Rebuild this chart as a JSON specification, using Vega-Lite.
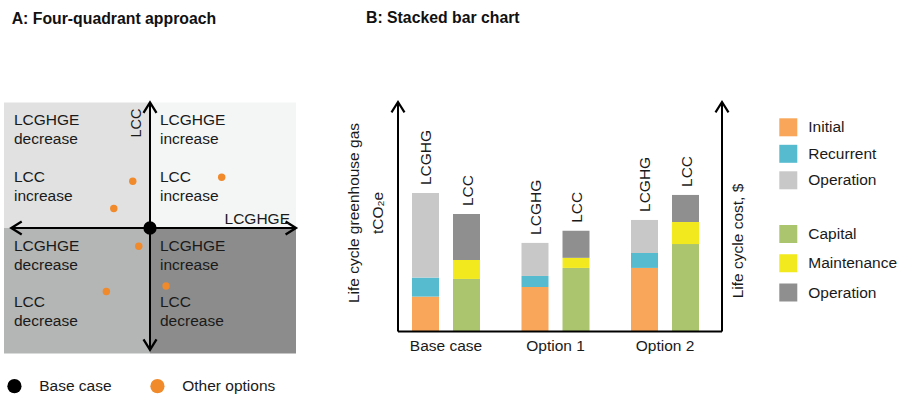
{
  "$schema": "https://vega.github.io/schema/vega-lite/v6.json",
  "width": 901,
  "height": 396,
  "padding": 0,
  "autosize": {"type": "none"},
  "background": "white",
  "config": {"view": {"stroke": null}, "font": "Liberation Sans"},
  "datasets": {
    "quadrants": [
      {"q": "TL", "x0": -1, "x1": 0, "y0": 0, "y1": 1, "ghgLabel": "LCGHGE\ndecrease", "lccLabel": "LCC\nincrease"},
      {"q": "TR", "x0": 0, "x1": 1, "y0": 0, "y1": 1, "ghgLabel": "LCGHGE\nincrease", "lccLabel": "LCC\nincrease"},
      {"q": "BL", "x0": -1, "x1": 0, "y0": -1, "y1": 0, "ghgLabel": "LCGHGE\ndecrease", "lccLabel": "LCC\ndecrease"},
      {"q": "BR", "x0": 0, "x1": 1, "y0": -1, "y1": 0, "ghgLabel": "LCGHGE\nincrease", "lccLabel": "LCC\ndecrease"}
    ],
    "arrowsA": [
      {"ghg": 1.0, "lcc": 0, "deg": 0},
      {"ghg": -0.95, "lcc": 0, "deg": 180},
      {"ghg": 0, "lcc": 1.0, "deg": 270},
      {"ghg": 0, "lcc": -0.97, "deg": 90}
    ],
    "base": [{"ghg": 0, "lcc": 0, "kind": "Base case"}],
    "others": [
      {"ghg": -0.118, "lcc": 0.373, "kind": "Other options"},
      {"ghg": -0.248, "lcc": 0.155, "kind": "Other options"},
      {"ghg": 0.491, "lcc": 0.405, "kind": "Other options"},
      {"ghg": -0.077, "lcc": -0.145, "kind": "Other options"},
      {"ghg": -0.299, "lcc": -0.506, "kind": "Other options"},
      {"ghg": 0.110, "lcc": -0.462, "kind": "Other options"}
    ],
    "bars": [
      {"group": "Base case", "measure": "LCGHG", "component": "Initial", "k": 1, "value": 15.2},
      {"group": "Base case", "measure": "LCGHG", "component": "Recurrent", "k": 2, "value": 8.3},
      {"group": "Base case", "measure": "LCGHG", "component": "Operation", "k": 3, "value": 36.8},
      {"group": "Base case", "measure": "LCC", "component": "Capital", "k": 1, "value": 22.9},
      {"group": "Base case", "measure": "LCC", "component": "Maintenance", "k": 2, "value": 8.3},
      {"group": "Base case", "measure": "LCC", "component": "Operation", "k": 3, "value": 20.0},
      {"group": "Option 1", "measure": "LCGHG", "component": "Initial", "k": 1, "value": 19.4},
      {"group": "Option 1", "measure": "LCGHG", "component": "Recurrent", "k": 2, "value": 4.8},
      {"group": "Option 1", "measure": "LCGHG", "component": "Operation", "k": 3, "value": 14.4},
      {"group": "Option 1", "measure": "LCC", "component": "Capital", "k": 1, "value": 27.7},
      {"group": "Option 1", "measure": "LCC", "component": "Maintenance", "k": 2, "value": 4.4},
      {"group": "Option 1", "measure": "LCC", "component": "Operation", "k": 3, "value": 11.8},
      {"group": "Option 2", "measure": "LCGHG", "component": "Initial", "k": 1, "value": 27.7},
      {"group": "Option 2", "measure": "LCGHG", "component": "Recurrent", "k": 2, "value": 6.5},
      {"group": "Option 2", "measure": "LCGHG", "component": "Operation", "k": 3, "value": 14.4},
      {"group": "Option 2", "measure": "LCC", "component": "Capital", "k": 1, "value": 38.1},
      {"group": "Option 2", "measure": "LCC", "component": "Maintenance", "k": 2, "value": 9.6},
      {"group": "Option 2", "measure": "LCC", "component": "Operation", "k": 3, "value": 11.8}
    ],
    "groups": [{"group": "Base case"}, {"group": "Option 1"}, {"group": "Option 2"}],
    "arrowsB": [{"fx": 0, "fy": 100}, {"fx": 1, "fy": 100}]
  },
  "layer": [
    {
      "layer": [
        {
          "data": {"name": "quadrants"},
          "mark": {"type": "rect"},
          "encoding": {
            "x": {"field": "x0", "type": "quantitative", "scale": {"domain": [-1, 1], "range": [4, 296]}, "axis": null},
            "x2": {"field": "x1"},
            "y": {"field": "y0", "type": "quantitative", "scale": {"domain": [-1, 1], "range": [353.5, 102.5]}, "axis": null},
            "y2": {"field": "y1"},
            "fill": {"field": "q", "type": "nominal", "scale": {"domain": ["TL", "TR", "BL", "BR"], "range": ["#e1e1e1", "#f4f5f5", "#b4b5b5", "#8c8c8c"]}, "legend": null}
          }
        },
        {
          "data": {"values": [{}]},
          "mark": {"type": "rule", "strokeWidth": 2, "color": "#000000"},
          "encoding": {
            "x": {"datum": -0.95, "type": "quantitative", "scale": {"domain": [-1, 1], "range": [4, 296]}, "axis": null},
            "x2": {"datum": 1.0},
            "y": {"datum": 0, "type": "quantitative", "scale": {"domain": [-1, 1], "range": [353.5, 102.5]}, "axis": null}
          }
        },
        {
          "data": {"values": [{}]},
          "mark": {"type": "rule", "strokeWidth": 2, "color": "#000000"},
          "encoding": {
            "x": {"datum": 0, "type": "quantitative", "scale": {"domain": [-1, 1], "range": [4, 296]}, "axis": null},
            "y": {"datum": -0.97, "type": "quantitative", "scale": {"domain": [-1, 1], "range": [353.5, 102.5]}, "axis": null},
            "y2": {"datum": 1.0}
          }
        },
        {
          "data": {"name": "arrowsA"},
          "mark": {"type": "point", "shape": "M -1.6 -1 L 0 0 L -1.6 1", "filled": false, "size": 169, "strokeWidth": 2.3, "color": "#000000", "opacity": 1},
          "encoding": {
            "x": {"field": "ghg", "type": "quantitative", "scale": {"domain": [-1, 1], "range": [4, 296]}, "axis": null},
            "y": {"field": "lcc", "type": "quantitative", "scale": {"domain": [-1, 1], "range": [353.5, 102.5]}, "axis": null},
            "angle": {"field": "deg", "type": "quantitative", "scale": null}
          }
        },
        {
          "data": {"name": "others"},
          "mark": {"type": "circle", "size": 55, "opacity": 1},
          "encoding": {
            "x": {"field": "ghg", "type": "quantitative", "scale": {"domain": [-1, 1], "range": [4, 296]}, "axis": null},
            "y": {"field": "lcc", "type": "quantitative", "scale": {"domain": [-1, 1], "range": [353.5, 102.5]}, "axis": null},
            "color": {
              "field": "kind", "type": "nominal",
              "scale": {"domain": ["Base case", "Other options"], "range": ["#000000", "#f08a2b"]},
              "legend": {
                "orient": "none", "legendX": 6.7, "legendY": 378, "direction": "horizontal", "title": null,
                "symbolType": "circle", "symbolSize": 201, "symbolOpacity": 1, "symbolStrokeWidth": 0,
                "labelOffset": 17, "columnPadding": 38, "labelFontSize": 15.5, "labelFont": "Liberation Sans",
                "labelColor": "#1a1a1a", "padding": 0
              }
            }
          }
        },
        {
          "data": {"name": "base"},
          "mark": {"type": "circle", "size": 177, "opacity": 1},
          "encoding": {
            "x": {"field": "ghg", "type": "quantitative", "scale": {"domain": [-1, 1], "range": [4, 296]}, "axis": null},
            "y": {"field": "lcc", "type": "quantitative", "scale": {"domain": [-1, 1], "range": [353.5, 102.5]}, "axis": null},
            "color": {"field": "kind", "type": "nominal", "scale": {"domain": ["Base case", "Other options"], "range": ["#000000", "#f08a2b"]}}
          }
        },
        {
          "data": {"name": "quadrants"},
          "mark": {"type": "text", "align": "left", "baseline": "alphabetic", "fontSize": 15.5, "lineHeight": 19, "lineBreak": "\n", "dx": 10, "dy": 22.5, "color": "#1a1a1a"},
          "encoding": {
            "x": {"field": "x0", "type": "quantitative", "scale": {"domain": [-1, 1], "range": [4, 296]}, "axis": null},
            "y": {"field": "y1", "type": "quantitative", "scale": {"domain": [-1, 1], "range": [353.5, 102.5]}, "axis": null},
            "text": {"field": "ghgLabel"}
          }
        },
        {
          "data": {"name": "quadrants"},
          "mark": {"type": "text", "align": "left", "baseline": "alphabetic", "fontSize": 15.5, "lineHeight": 19, "lineBreak": "\n", "dx": 10, "dy": 79, "color": "#1a1a1a"},
          "encoding": {
            "x": {"field": "x0", "type": "quantitative", "scale": {"domain": [-1, 1], "range": [4, 296]}, "axis": null},
            "y": {"field": "y1", "type": "quantitative", "scale": {"domain": [-1, 1], "range": [353.5, 102.5]}, "axis": null},
            "text": {"field": "lccLabel"}
          }
        },
        {
          "data": {"values": [{}]},
          "mark": {"type": "text", "text": "LCC", "angle": 270, "align": "right", "baseline": "alphabetic", "fontSize": 14.5, "dx": -6, "dy": -9.3, "color": "#1a1a1a"},
          "encoding": {
            "x": {"datum": 0, "type": "quantitative", "scale": {"domain": [-1, 1], "range": [4, 296]}, "axis": null},
            "y": {"datum": 1, "type": "quantitative", "scale": {"domain": [-1, 1], "range": [353.5, 102.5]}, "axis": null}
          }
        },
        {
          "data": {"values": [{}]},
          "mark": {"type": "text", "text": "LCGHGE", "align": "right", "baseline": "alphabetic", "fontSize": 15.5, "dx": -6, "dy": -4.5, "color": "#1a1a1a"},
          "encoding": {
            "x": {"datum": 1, "type": "quantitative", "scale": {"domain": [-1, 1], "range": [4, 296]}, "axis": null},
            "y": {"datum": 0, "type": "quantitative", "scale": {"domain": [-1, 1], "range": [353.5, 102.5]}, "axis": null}
          }
        },
        {
          "data": {"values": [{}]},
          "mark": {"type": "text", "text": "A: Four-quadrant approach", "align": "left", "baseline": "alphabetic", "fontSize": 15.8, "fontWeight": "bold", "dx": 7.7, "dy": -79, "color": "#111111"},
          "encoding": {
            "x": {"datum": -1, "type": "quantitative", "scale": {"domain": [-1, 1], "range": [4, 296]}, "axis": null},
            "y": {"datum": 1, "type": "quantitative", "scale": {"domain": [-1, 1], "range": [353.5, 102.5]}, "axis": null}
          }
        }
      ]
    },
    {
      "layer": [
        {
          "layer": [
            {
              "data": {"name": "bars"},
              "transform": [{"filter": "datum.measure === 'LCGHG'"}],
              "mark": {"type": "bar"},
              "encoding": {
                "x": {"field": "group", "type": "nominal", "scale": {"domain": ["Base case", "Option 1", "Option 2"], "range": [391.25, 719.75], "paddingInner": 0, "paddingOuter": 0}, "axis": null},
                "xOffset": {"field": "measure", "type": "nominal", "scale": {"domain": ["LCGHG", "LCC"], "paddingInner": 0.3415, "paddingOuter": 0.506}},
                "y": {"field": "value", "type": "quantitative", "aggregate": "sum", "stack": "zero", "scale": {"domain": [0, 100], "range": [331.5, 102]}, "axis": null},
                "order": {"field": "k", "type": "quantitative"},
                "fill": {
                  "field": "component", "type": "nominal",
                  "scale": {"domain": ["Initial", "Recurrent", "Operation"], "range": ["#f9a65a", "#56bbcf", "#c8c8c8"]},
                  "legend": {
                    "orient": "none", "legendX": 779.3, "legendY": 118.3, "title": null,
                    "symbolType": "square", "symbolSize": 324, "symbolOpacity": 1, "symbolStrokeWidth": 0,
                    "labelOffset": 11, "rowPadding": 8.5, "labelFontSize": 15.5, "labelFont": "Liberation Sans",
                    "labelColor": "#1a1a1a", "padding": 0
                  }
                }
              }
            },
            {
              "data": {"name": "bars"},
              "transform": [{"filter": "datum.measure === 'LCC'"}],
              "mark": {"type": "bar"},
              "encoding": {
                "x": {"field": "group", "type": "nominal", "scale": {"domain": ["Base case", "Option 1", "Option 2"], "range": [391.25, 719.75], "paddingInner": 0, "paddingOuter": 0}, "axis": null},
                "xOffset": {"field": "measure", "type": "nominal", "scale": {"domain": ["LCGHG", "LCC"], "paddingInner": 0.3415, "paddingOuter": 0.506}},
                "y": {"field": "value", "type": "quantitative", "aggregate": "sum", "stack": "zero", "scale": {"domain": [0, 100], "range": [331.5, 102]}, "axis": null},
                "order": {"field": "k", "type": "quantitative"},
                "color": {
                  "field": "component", "type": "nominal",
                  "scale": {"domain": ["Capital", "Maintenance", "Operation"], "range": ["#abc56e", "#f2ea1e", "#8f8f8f"]},
                  "legend": {
                    "orient": "none", "legendX": 779.3, "legendY": 225, "title": null,
                    "symbolType": "square", "symbolSize": 324, "symbolOpacity": 1, "symbolStrokeWidth": 0,
                    "labelOffset": 11, "rowPadding": 11.25, "labelFontSize": 15.5, "labelFont": "Liberation Sans",
                    "labelColor": "#1a1a1a", "padding": 0
                  }
                }
              }
            },
            {
              "data": {"name": "bars"},
              "transform": [{"aggregate": [{"op": "sum", "field": "value", "as": "total"}], "groupby": ["group", "measure"]}],
              "mark": {"type": "text", "angle": 270, "align": "left", "baseline": "alphabetic", "fontSize": 15.5, "dx": 8, "dy": 6, "color": "#1a1a1a"},
              "encoding": {
                "x": {"field": "group", "type": "nominal", "scale": {"domain": ["Base case", "Option 1", "Option 2"], "range": [391.25, 719.75], "paddingInner": 0, "paddingOuter": 0}, "axis": null},
                "xOffset": {"field": "measure", "type": "nominal", "scale": {"domain": ["LCGHG", "LCC"], "paddingInner": 0.3415, "paddingOuter": 0.506}},
                "y": {"field": "total", "type": "quantitative", "scale": {"domain": [0, 100], "range": [331.5, 102]}, "axis": null},
                "text": {"field": "measure"}
              }
            },
            {
              "data": {"name": "groups"},
              "mark": {"type": "text", "align": "center", "baseline": "alphabetic", "fontSize": 15.5, "dy": 19.5, "color": "#1a1a1a"},
              "encoding": {
                "x": {"field": "group", "type": "nominal", "scale": {"domain": ["Base case", "Option 1", "Option 2"], "range": [391.25, 719.75], "paddingInner": 0, "paddingOuter": 0}, "axis": null},
                "y": {"datum": 0, "type": "quantitative", "scale": {"domain": [0, 100], "range": [331.5, 102]}, "axis": null},
                "text": {"field": "group"}
              }
            }
          ]
        },
        {
          "layer": [
            {
              "data": {"values": [{}]},
              "mark": {"type": "rule", "strokeWidth": 2, "color": "#000000"},
              "encoding": {
                "x": {"datum": 0, "type": "quantitative", "scale": {"domain": [0, 1], "range": [398, 722]}, "axis": null},
                "y": {"datum": 0, "type": "quantitative", "scale": {"domain": [0, 100], "range": [331.5, 102]}, "axis": null},
                "y2": {"datum": 100}
              }
            },
            {
              "data": {"values": [{}]},
              "mark": {"type": "rule", "strokeWidth": 2, "color": "#000000"},
              "encoding": {
                "x": {"datum": 1, "type": "quantitative", "scale": {"domain": [0, 1], "range": [398, 722]}, "axis": null},
                "y": {"datum": 0, "type": "quantitative", "scale": {"domain": [0, 100], "range": [331.5, 102]}, "axis": null},
                "y2": {"datum": 100}
              }
            },
            {
              "data": {"values": [{}]},
              "mark": {"type": "rule", "strokeWidth": 2, "color": "#000000"},
              "encoding": {
                "x": {"datum": 0, "type": "quantitative", "scale": {"domain": [0, 1], "range": [398, 722]}, "axis": null},
                "x2": {"datum": 1},
                "y": {"datum": 0, "type": "quantitative", "scale": {"domain": [0, 100], "range": [331.5, 102]}, "axis": null}
              }
            },
            {
              "data": {"name": "arrowsB"},
              "mark": {"type": "point", "shape": "M -1.6 -1 L 0 0 L -1.6 1", "filled": false, "size": 169, "strokeWidth": 2.2, "color": "#000000", "opacity": 1, "angle": 270},
              "encoding": {
                "x": {"field": "fx", "type": "quantitative", "scale": {"domain": [0, 1], "range": [398, 722]}, "axis": null},
                "y": {"field": "fy", "type": "quantitative", "scale": {"domain": [0, 100], "range": [331.5, 102]}, "axis": null}
              }
            },
            {
              "data": {"values": [{}]},
              "mark": {"type": "text", "text": ["Life cycle greenhouse gas", "tCO₂e"], "angle": 270, "align": "center", "baseline": "alphabetic", "fontSize": 15.5, "lineHeight": 23.7, "dx": 3.75, "dy": -39, "color": "#1a1a1a"},
              "encoding": {
                "x": {"datum": 0, "type": "quantitative", "scale": {"domain": [0, 1], "range": [398, 722]}, "axis": null},
                "y": {"datum": 50, "type": "quantitative", "scale": {"domain": [0, 100], "range": [331.5, 102]}, "axis": null}
              }
            },
            {
              "data": {"values": [{}]},
              "mark": {"type": "text", "text": "Life cycle cost, $", "angle": 270, "align": "center", "baseline": "alphabetic", "fontSize": 15.5, "dx": -24.25, "dy": 21, "color": "#1a1a1a"},
              "encoding": {
                "x": {"datum": 1, "type": "quantitative", "scale": {"domain": [0, 1], "range": [398, 722]}, "axis": null},
                "y": {"datum": 50, "type": "quantitative", "scale": {"domain": [0, 100], "range": [331.5, 102]}, "axis": null}
              }
            },
            {
              "data": {"values": [{}]},
              "mark": {"type": "text", "text": "B: Stacked bar chart", "align": "left", "baseline": "alphabetic", "fontSize": 15.8, "fontWeight": "bold", "dx": -32, "dy": -78.7, "color": "#111111"},
              "encoding": {
                "x": {"datum": 0, "type": "quantitative", "scale": {"domain": [0, 1], "range": [398, 722]}, "axis": null},
                "y": {"datum": 100, "type": "quantitative", "scale": {"domain": [0, 100], "range": [331.5, 102]}, "axis": null}
              }
            }
          ]
        }
      ],
      "resolve": {"scale": {"x": "independent"}}
    }
  ],
  "resolve": {
    "scale": {"x": "independent", "y": "independent", "color": "independent", "fill": "independent"},
    "legend": {"color": "independent", "fill": "independent"}
  }
}
